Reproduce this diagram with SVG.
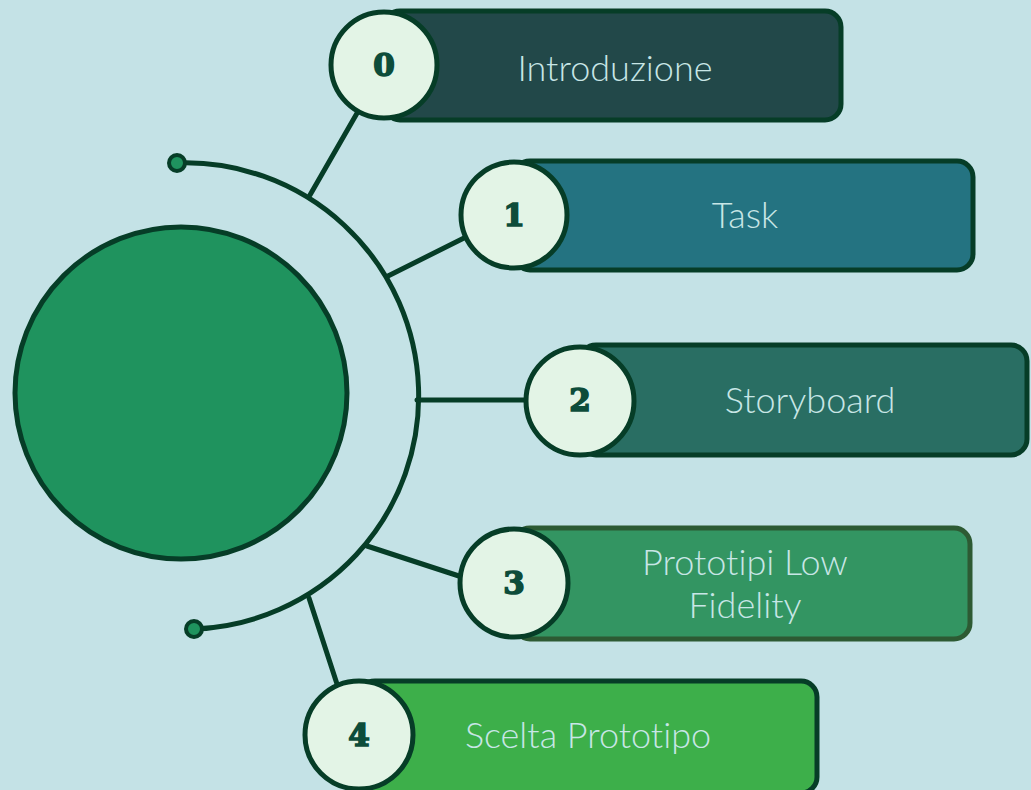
<svg xmlns="http://www.w3.org/2000/svg" width="1031" height="790" viewBox="0 0 1031 790">
<style>
.ln{stroke:#063d27;stroke-width:5;fill:none;stroke-linecap:round}
.box{stroke:#063d27;stroke-width:5}
.num{fill:#e3f4e6;stroke:#063d27;stroke-width:5}
.nt{font-family:"DejaVu Serif",serif;font-weight:900;font-size:31px;fill:#0d4c3a;stroke:#0d4c3a;stroke-width:1.6;text-anchor:middle;dominant-baseline:central}
.lb{font-family:Lato,"Liberation Sans",sans-serif;font-weight:300;font-size:36px;fill:#c8e6e6;text-anchor:middle;dominant-baseline:central;font-variant-ligatures:none}
</style>
<rect width="1031" height="790" fill="#c4e2e6"/>
<g id="hub">
<circle cx="181" cy="393" r="166" fill="#1f935e" stroke="#063d27" stroke-width="5"/>
</g>
<g id="connectors">
<path class="ln" d="M 177 163 A 233 233 0 0 1 194 629"/>
<line class="ln" x1="310" y1="195" x2="360" y2="108"/>
<line class="ln" x1="388" y1="276" x2="466" y2="237"/>
<line class="ln" x1="417" y1="400" x2="528" y2="400"/>
<line class="ln" x1="367" y1="546" x2="462" y2="577"/>
<line class="ln" x1="309" y1="598" x2="337" y2="684"/>
<circle cx="177" cy="163" r="8" fill="#1f935e" stroke="#063d27" stroke-width="4"/>
<circle cx="194" cy="629" r="8" fill="#1f935e" stroke="#063d27" stroke-width="4"/>
</g>
<g id="node0">
<rect class="box" x="384" y="11" width="457" height="109" rx="16" fill="#224849"/>
<circle class="num" cx="384" cy="65" r="53"/>
<text class="nt" x="384" y="65">0</text>
<text class="lb" x="615" y="67">Introduzione</text>
</g>
<g id="node1">
<rect class="box" x="514" y="161" width="459" height="109" rx="16" fill="#247381"/>
<circle class="num" cx="514" cy="215" r="53"/>
<text class="nt" x="514" y="215">1</text>
<text class="lb" x="745" y="214">Task</text>
</g>
<g id="node2">
<rect class="box" x="580" y="345" width="447" height="110" rx="16" fill="#296e63"/>
<circle class="num" cx="580" cy="401" r="54"/>
<text class="nt" x="580" y="400">2</text>
<text class="lb" x="810" y="399">Storyboard</text>
</g>
<g id="node3">
<rect x="514" y="528" width="456" height="111" rx="16" fill="#339562" stroke="#2d5a33" stroke-width="5"/>
<circle class="num" cx="514" cy="583" r="54"/>
<text class="nt" x="514" y="583">3</text>
<text class="lb" x="745" y="561">Prototipi Low</text>
<text class="lb" x="745" y="604">Fidelity</text>
</g>
<g id="node4">
<rect class="box" x="359" y="681" width="458" height="112" rx="16" fill="#3daf4a"/>
<circle class="num" cx="359" cy="735" r="54"/>
<text class="nt" x="359" y="735">4</text>
<text class="lb" x="588" y="734">Scelta Prototipo</text>
</g>
</svg>
